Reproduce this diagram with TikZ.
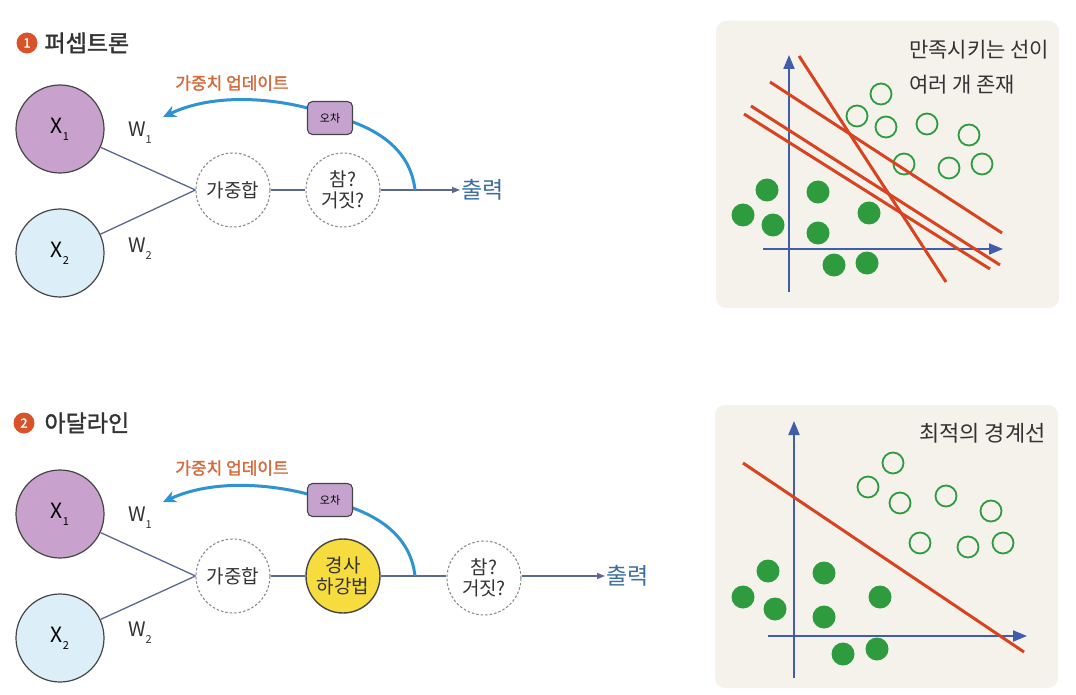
\documentclass[tikz,border=0pt]{standalone}
\usepackage{fontspec}
\setmainfont{Noto Sans CJK KR}
\newfontfamily\krbold{Noto Sans CJK KR}[FakeBold=1.6]
\usetikzlibrary{arrows.meta}
\definecolor{xone}{HTML}{C8A2CD}
\definecolor{xtwo}{HTML}{DCEEF8}
\definecolor{outl}{HTML}{454545}
\definecolor{linec}{HTML}{5B6890}
\definecolor{dashgray}{HTML}{8A8A8A}
\definecolor{fbblue}{HTML}{2E93D0}
\definecolor{updorange}{HTML}{D66A3C}
\definecolor{errfill}{HTML}{C6A3CF}
\definecolor{gdyellow}{HTML}{F6DC3E}
\definecolor{outblue}{HTML}{3A6FA6}
\definecolor{titlegray}{HTML}{333333}
\definecolor{markred}{HTML}{D9532A}
\definecolor{panelbg}{HTML}{F5F2EC}
\definecolor{axisblue}{HTML}{3F5DA8}
\definecolor{sepred}{HTML}{D8441F}
\definecolor{dotgreen}{HTML}{2E9B3F}
\newcommand{\subx}[1]{{\fontsize{11}{11}\selectfont\raisebox{-7pt}{#1}}}
\begin{document}
\begin{tikzpicture}[x=1pt,y=-1pt,
  inpA/.style={circle,draw=outl,line width=1.2pt,fill=xone,minimum size=88pt,inner sep=0pt,font=\fontsize{21}{21}\selectfont},
  inpB/.style={inpA,fill=xtwo},
  opnode/.style={circle,draw=dashgray,dash pattern=on 2.5pt off 2pt,line width=1.1pt,fill=white,minimum size=74pt,inner sep=0pt,align=center,font=\fontsize{19}{21}\selectfont,text=titlegray},
  gdnode/.style={circle,draw=outl,line width=1.4pt,fill=gdyellow,minimum size=74pt,inner sep=0pt,align=center,font=\fontsize{19}{21}\selectfont,text=titlegray},
  errbox/.style={rectangle,rounded corners=5pt,draw=outl,line width=1.1pt,fill=errfill,minimum width=45pt,minimum height=33pt,inner sep=0pt,font=\fontsize{11}{11}\selectfont},
  conn/.style={draw=linec,line width=1.3pt},
  outarrow/.style={conn,-{Triangle[length=8pt,width=6pt]}},
  feedback/.style={draw=fbblue,line width=3pt,-{Stealth[length=13pt,width=12pt]}},
  updtext/.style={text=updorange,font=\krbold\fontsize{17}{17}\selectfont},
  outtext/.style={text=outblue,font=\fontsize{23}{23}\selectfont,inner sep=1pt},
  wlabel/.style={text=titlegray,font=\fontsize{20}{20}\selectfont},
  titletext/.style={text=titlegray,font=\krbold\fontsize{23}{23}\selectfont,anchor=west},
  marker/.style={circle,fill=markred,text=white,minimum size=21pt,inner sep=0pt,font=\krbold\fontsize{13}{13}\selectfont},
  panel/.style={fill=panelbg,rounded corners=10pt},
  axis/.style={draw=axisblue,line width=2pt,-{Triangle[length=14pt,width=11pt]}},
  sepline/.style={draw=sepred,line width=3pt},
  dotfull/.style={circle,fill=dotgreen,minimum size=23pt,inner sep=0pt},
  dotopen/.style={circle,draw=dotgreen,line width=1.8pt,fill=panelbg,minimum size=21pt,inner sep=0pt},
  paneltext/.style={text=titlegray,font=\fontsize{21}{21}\selectfont,anchor=west,inner sep=0pt}
]
\useasboundingbox[fill=white] (0,0) rectangle (1076,695);

% ---------- section 1 ----------
\node[marker] (m1) at (27,43) {1};
\node[titletext] (title1) at (41,43) {퍼셉트론};

\node[inpA] (x1a) at (60,129) {X\subx{1}};
\node[inpB] (x2a) at (60,253) {X\subx{2}};
\node[opnode] (sum1) at (233,190) {가중합};
\node[opnode] (tf1) at (343,190) {참?\\거짓?};
\node[outtext,anchor=west] (out1) at (460,190) {출력};
\node[wlabel] (w1a) at (140,133) {W\subx{1}};
\node[wlabel] (w2a) at (140,249) {W\subx{2}};
\coordinate (j1) at (415,190);
\coordinate (t1) at (163,117);

\draw[conn] (x1a) -- (sum1.west);
\draw[conn] (x2a) -- (sum1.west);
\draw[conn] (sum1) -- (tf1);
\draw[outarrow] (tf1) -- (out1);
\draw[feedback] (j1) .. controls (410,145) and (370,125) .. (330,115) .. controls (290,100) and (220,90) .. (t1);
\node[errbox] (err1) at (330,118) {오차};
\node[updtext] (upd1) at (232,83) {가중치 업데이트};

% ---------- section 2 ----------
\node[marker] (m2) at (24,423) {2};
\node[titletext] (title2) at (41,423) {아달라인};

\node[inpA] (x1b) at (60,514) {X\subx{1}};
\node[inpB] (x2b) at (60,638) {X\subx{2}};
\node[opnode] (sum2) at (233,576) {가중합};
\node[gdnode] (gd2) at (343,576) {경사\\하강법};
\node[opnode] (tf2) at (484,578) {참?\\거짓?};
\node[outtext,anchor=west] (out2) at (605,576) {출력};
\node[wlabel] (w1b) at (140,518) {W\subx{1}};
\node[wlabel] (w2b) at (140,633) {W\subx{2}};
\coordinate (j2) at (415,576);
\coordinate (t2) at (163,502);

\draw[conn] (x1b) -- (sum2.west);
\draw[conn] (x2b) -- (sum2.west);
\draw[conn] (sum2) -- (gd2);
\draw[conn] (gd2) -- (tf2.west |- gd2);
\draw[outarrow] (tf2.east |- out2) -- (out2);
\draw[feedback] (j2) .. controls (410,531) and (370,511) .. (330,501) .. controls (290,486) and (220,476) .. (t2);
\node[errbox] (err2) at (330,500) {오차};
\node[updtext] (upd2) at (232,468) {가중치 업데이트};

% ---------- panel 1 ----------
\fill[panel] (716,21) rectangle (1059,308);
\draw[axis] (789,292) -- (789,55);
\draw[axis] (763,249) -- (1003,249);
\foreach \x/\y [count=\i] in {767/190,743/215,773/225,818/192,818/233,869/213,834/265,867/263}
  \node[dotfull] (fa\i) at (\x,\y) {};
\foreach \x/\y [count=\i] in {881/94,857/116,886/127,927/124,969/135,904/164,949/168,982/164}
  \node[dotopen] (oa\i) at (\x,\y) {};
\draw[sepline] (799,56) -- (946,282);
\draw[sepline] (770,82) -- (1002,233);
\draw[sepline] (751,106) -- (1000,265);
\draw[sepline] (744,114) -- (990,269);
\node[paneltext] (pt1) at (909,50) {만족시키는 선이};
\node[paneltext] (pt2) at (909,85) {여러 개 존재};

% ---------- panel 2 ----------
\fill[panel] (715,405) rectangle (1058,688);
\draw[axis] (794,678) -- (794,421);
\draw[axis] (768,636) -- (1027,636);
\foreach \x/\y [count=\i] in {768/571,743/597,775/609,824/573,824/617,880/597,843/654,877/649}
  \node[dotfull] (fb\i) at (\x,\y) {};
\foreach \x/\y [count=\i] in {893/463,868/487,900/503,946/496,991/511,920/543,968/547,1003/543}
  \node[dotopen] (ob\i) at (\x,\y) {};
\draw[sepline] (743,463) -- (1024,652);
\node[paneltext,font=\fontsize{22}{22}\selectfont] (pt3) at (919,433) {최적의 경계선};
\end{tikzpicture}
\end{document}
